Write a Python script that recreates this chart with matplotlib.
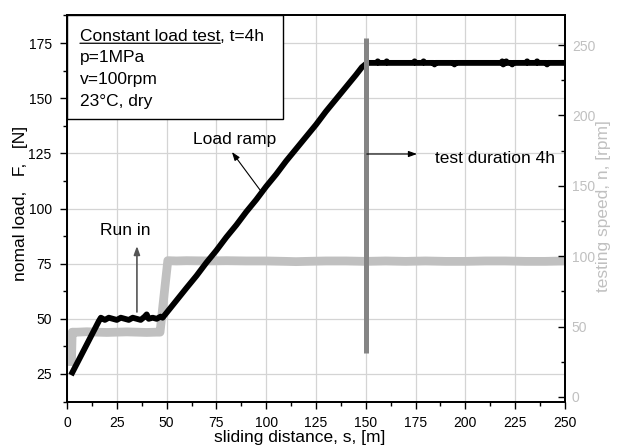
import matplotlib
matplotlib.use('Agg')
import matplotlib.pyplot as plt
from matplotlib.patches import Rectangle
from matplotlib.ticker import MultipleLocator

plt.rcParams['font.family'] = ['Liberation Sans', 'DejaVu Sans']

# normal load F [N] vs sliding distance s [m]
load_x = [2, 4, 6, 8, 10, 12, 14, 16, 17, 19, 21, 23, 25, 27, 29, 31, 33, 35, 37, 39, 40, 41, 43, 45, 47, 48,
          52, 56, 60, 65, 70, 75, 80, 85, 90, 95, 100, 105, 110, 115, 120, 125, 130, 135, 140, 145, 148, 150,
          151, 155.5, 156, 156.5, 160, 160.5, 161, 174, 174.5, 175, 178.5, 179, 179.5, 184, 184.5, 185,
          194, 194.5, 195, 218, 218.5, 219, 220, 220.5, 221, 223, 223.5, 224, 230.5, 231, 231.5, 235.5, 236,
          236.5, 240.5, 241, 241.5, 250]
load_y = [24.5, 28, 31.5, 35, 38.5, 42, 45.5, 49, 50.5, 49.5, 50.5, 50, 49.5, 50.5, 50, 49.5, 50.5, 50, 49.5, 51, 52, 50, 50.5, 50, 51, 50.5,
          55, 59.5, 64, 69.5, 75.5, 81, 87, 92.5, 98.5, 104, 110, 115.5, 121.5, 127, 132.5, 138, 144, 149.5, 155, 160.5, 164, 165.5,
          166, 166, 166.7, 166, 166, 166.7, 166, 166, 166.7, 166, 166, 166.7, 166, 166, 165.3, 166,
          166, 165.3, 166, 166, 166.7, 165.3, 166, 166.7, 166, 166, 165.3, 166, 166, 166.7, 166, 166, 166.7,
          166, 166, 165.3, 166, 166]

# testing speed n [rpm]
speed_x = [2.2, 2.6, 5, 10, 15, 20, 25, 30, 35, 40, 45, 46.7, 50.6, 55, 60, 70, 80, 90, 100, 110, 115, 120,
           130, 140, 150, 160, 170, 180, 190, 200, 210, 220, 230, 240, 250]
speed_y = [22, 46, 46, 46.3, 46, 45.8, 46, 46.2, 46, 45.8, 46, 46, 96.8, 96.6, 96.8, 96.6, 96.8, 96.6, 96.6, 96.3, 96.1, 96.3,
           96.6, 96.6, 96.3, 96.6, 96.3, 96.6, 96.3, 96.3, 96.6, 96.6, 96.3, 96.3, 96.6]

test_end = 150
marker_range = (34.5, 177.3)

box_lines = ['p=1MPa', 'v=100rpm', '23°C, dry']

fig = plt.figure(figsize=(6.17, 4.47), dpi=100)
ax1 = fig.add_axes([0.1086, 0.1007, 0.8071, 0.8657])
ax2 = ax1.twinx()

ax1.set_xlim(0, 250)
ax1.set_ylim(12.3, 187.7)
ax2.set_ylim(-3.6, 271.3)

# grid
ax1.set_axisbelow(True)
ax1.grid(True, color='#d4d4d4', linewidth=0.9)

# speed curve drawn in ax1 but on the right-axis scale so the load curve stays on top
ax1.plot(speed_x, speed_y, color='#c0c0c0', linewidth=6.3, transform=ax2.transData, zorder=2,
         solid_capstyle='butt')
ax1.plot(load_x, load_y, color='black', linewidth=4.2, zorder=3, solid_capstyle='butt')
ax1.vlines(test_end, marker_range[0], marker_range[1], color='#858585', linewidth=3.6, zorder=4)

# ticks
ax1.xaxis.set_major_locator(MultipleLocator(25))
ax1.xaxis.set_minor_locator(MultipleLocator(12.5))
ax1.yaxis.set_major_locator(MultipleLocator(25))
ax1.yaxis.set_minor_locator(MultipleLocator(12.5))
ax1.tick_params(which='major', direction='out', length=5, width=1, labelsize=10, pad=5)
ax1.tick_params(which='minor', direction='out', length=3, width=1)
ax1.tick_params(axis='y', which='major', pad=6)

ax2.yaxis.set_major_locator(MultipleLocator(50))
ax2.yaxis.set_minor_locator(MultipleLocator(25))
ax2.tick_params(axis='y', which='major', direction='in', length=5, width=1, labelsize=10,
                labelcolor='#c0c0c0', pad=5)
ax2.tick_params(axis='y', which='minor', direction='in', length=3, width=1)

for ax in (ax1, ax2):
    for sp in ax.spines.values():
        sp.set_linewidth(1.3)

# axis labels
ax1.set_xlabel('sliding distance, s, [m]', fontsize=12.5)
ax1.xaxis.set_label_coords(0.467, -0.093)
ax1.xaxis.label.set_va('center')
ax1.set_ylabel('nomal load,   F,   [N]', fontsize=12.5)
ax1.yaxis.set_label_coords(-0.094, 0.513)
ax1.yaxis.label.set_va('center')
ax2.set_ylabel('testing speed, n, [rpm]', fontsize=12.5, color='#c0c0c0')
ax2.yaxis.set_label_coords(1.078, 0.506)
ax2.yaxis.label.set_va('center')

# info box
ax1.add_patch(Rectangle((0, 0.731), 0.434, 0.269, transform=ax1.transAxes, facecolor='white',
                        edgecolor='black', linewidth=1.0, zorder=5))
t1 = ax1.text(0.026, 0.934, 'Constant load test', transform=ax1.transAxes, fontsize=12.5,
              va='baseline', zorder=6)
ax1.annotate(', t=4h', xy=(1, 0), xycoords=t1, va='bottom', fontsize=12.5, zorder=6)
ax1.annotate('', xy=(0, 0.02), xycoords=t1, xytext=(1, 0.02), textcoords=t1,
             arrowprops=dict(arrowstyle='-', linewidth=0.9, shrinkA=0, shrinkB=0), zorder=6)
for i, line in enumerate(box_lines):
    ax1.text(0.026, 0.878 - 0.056 * i, line, transform=ax1.transAxes, fontsize=12.5,
             va='baseline', zorder=6)

# annotations
ax1.annotate('', xy=(82.8, 125.6), xytext=(96.9, 108.4),
             arrowprops=dict(arrowstyle='-|>,head_length=0.5,head_width=0.18', color='black',
                             linewidth=0.8, shrinkA=0, shrinkB=0), zorder=5)
ax1.text(63.3, 129.2, 'Load ramp', fontsize=12.5, va='baseline')

ax1.annotate('', xy=(35.1, 83), xytext=(35.1, 53.1),
             arrowprops=dict(arrowstyle='-|>,head_length=0.5,head_width=0.18', color='#555555',
                             linewidth=1.2, shrinkA=0, shrinkB=0), zorder=5)
ax1.text(16.6, 88, 'Run in', fontsize=12.5, va='baseline')

ax1.annotate('', xy=(175.7, 124.7), xytext=(150.5, 124.7),
             arrowprops=dict(arrowstyle='-|>,head_length=0.5,head_width=0.18', color='black',
                             linewidth=0.8, shrinkA=0, shrinkB=0), zorder=5)
ax1.text(184.7, 120.6, 'test duration 4h', fontsize=12.5, va='baseline')

fig.savefig('out.png', dpi=100)
plt.close(fig)
